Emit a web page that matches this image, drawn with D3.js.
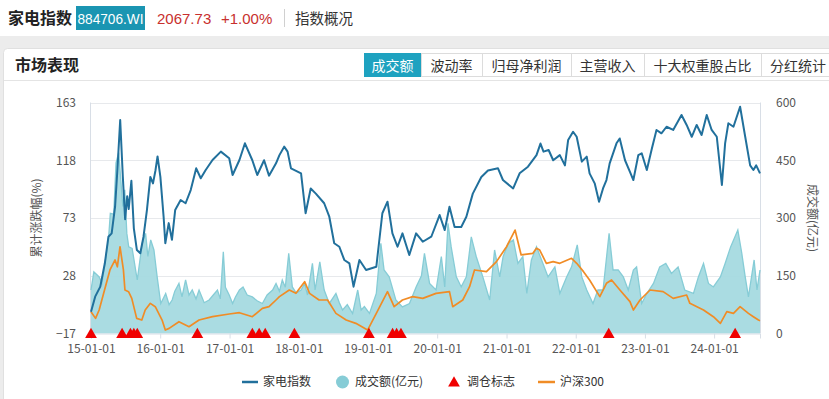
<!DOCTYPE html>
<html>
<head>
<meta charset="utf-8">
<script src="https://cdn.jsdelivr.net/npm/d3@7"></script>
<style>
  html, body { margin: 0; padding: 0; background: #fff; }
  svg { display: block; font-family: "Noto Sans CJK SC", "Noto Sans", sans-serif; }
</style>
</head>
<body>
<svg id="chart" width="829" height="399"></svg>
<script>
// ---------------- DATA ----------------
const indexName = "家电指数";
const indexCode = "884706.WI";
const indexPrice = "2067.73";
const indexChange = "+1.00%";
const tabs = ["成交额", "波动率", "归母净利润", "主营收入", "十大权重股占比", "分红统计"];

const leftTicks = [-17, 28, 73, 118, 163];
const rightTicks = [0, 150, 300, 450, 600];
const xTickLabels = ["15-01-01","16-01-01","17-01-01","18-01-01","19-01-01","20-01-01","21-01-01","22-01-01","23-01-01","24-01-01"];

// 家电指数 cumulative change (%)
const idxDates = ["2015-01-01","2015-01-23","2015-02-19","2015-03-15","2015-04-03","2015-04-20","2015-05-08","2015-05-20","2015-06-04","2015-06-18","2015-06-30","2015-07-11","2015-07-19","2015-08-02","2015-08-15","2015-08-31","2015-09-18","2015-10-05","2015-10-23","2015-11-10","2015-11-24","2015-12-07","2015-12-18",
"2016-01-02","2016-01-19","2016-01-28","2016-02-15","2016-03-03","2016-03-20","2016-04-18","2016-05-14","2016-06-10","2016-07-09","2016-08-02","2016-08-28","2016-10-03","2016-11-16","2016-12-30",
"2017-01-17","2017-02-22","2017-03-23","2017-05-01","2017-05-27","2017-07-02","2017-07-28","2017-09-03","2017-09-21","2017-10-16","2017-11-03","2017-11-21",
"2018-01-13","2018-02-06","2018-03-05","2018-04-01","2018-05-15","2018-06-11","2018-07-07","2018-08-03","2018-08-29","2018-09-25","2018-10-17","2018-11-17","2018-12-22",
"2019-02-14","2019-03-18","2019-04-14","2019-05-10","2019-06-06","2019-07-02","2019-08-07","2019-09-12","2019-10-17","2019-12-01",
"2020-01-14","2020-02-10","2020-03-06","2020-04-02","2020-05-07","2020-06-03","2020-07-07","2020-08-21","2020-09-25","2020-11-17","2020-12-13",
"2021-02-05","2021-03-11","2021-04-24","2021-06-08","2021-06-29","2021-07-15","2021-08-11","2021-09-04","2021-10-09","2021-11-05","2021-11-22","2021-12-18",
"2022-01-06","2022-02-02","2022-02-28","2022-03-15","2022-04-11","2022-05-04","2022-05-25","2022-06-12","2022-06-29","2022-08-04","2022-08-21","2022-09-18","2022-10-14","2022-11-01","2022-11-27","2022-12-15",
"2023-01-11","2023-02-07","2023-03-03","2023-03-29","2023-04-25","2023-05-30","2023-07-13","2023-08-09","2023-09-05","2023-10-01","2023-10-27","2023-11-23","2023-12-19",
"2024-01-15","2024-02-11","2024-02-28","2024-03-16","2024-04-12","2024-05-17","2024-06-13","2024-07-09","2024-07-26","2024-08-10","2024-08-30"];
const idxValues = [0,11.7,19.5,37.7,58.4,61,81.8,110,149.4,105,72,90,80,102,65,48,45.5,58.4,79.2,105,100,110,121,
105,74,53.3,69,56,79.2,87,84.5,94.8,111.7,104,110.4,118.2,124.7,119.5,
106.5,118.2,131.2,118,106.5,118,106,115.6,122,128.6,124.7,111.7,
107.8,76.7,96,92,84.5,74,53.3,50.6,40.3,37.7,19.5,40.3,32.5,
35,76.7,85.7,61,50.6,61,44.2,61,54.5,58.4,
75.3,63.6,81.8,66,66,74,92,105,110,111.7,102.6,
96,107.8,113,122,131,124.7,126,118,122,114,133.8,140.2,
136.3,116.9,120.8,107.8,100,85.7,96,102.6,115.6,131.2,135,118,109,102.6,122,123.4,
110.4,127.3,141.6,139,144.1,141.6,153.3,145.5,136.3,145.5,137.7,153.3,141.6,
136.3,98.7,131.2,146.8,144.1,159.7,136.3,114,110.4,114,107.8];

// 沪深300 cumulative change (%)
const hsDates = ["2015-01-01","2015-01-25","2015-02-13","2015-03-18","2015-04-11","2015-05-08","2015-05-20","2015-06-03","2015-06-21","2015-06-29","2015-07-18","2015-08-04","2015-08-30","2015-09-26","2015-10-14","2015-11-10","2015-12-06",
"2016-01-11","2016-01-28","2016-02-17","2016-04-09","2016-06-01","2016-07-24","2016-10-03","2016-12-30",
"2017-02-22","2017-05-01","2017-06-23","2017-07-28","2017-09-03","2017-09-21","2017-11-12","2017-12-17",
"2018-02-01","2018-02-27","2018-04-18","2018-06-02","2018-07-16","2018-09-08","2018-10-29","2018-12-30",
"2019-02-14","2019-04-14","2019-05-19","2019-07-02","2019-08-25","2019-10-17","2019-12-26",
"2020-03-06","2020-03-23","2020-05-15","2020-06-20","2020-07-16","2020-09-17","2020-11-09",
"2021-01-01","2021-02-15","2021-03-19","2021-05-20","2021-06-08","2021-06-25","2021-07-30","2021-09-04","2021-10-09","2021-12-10",
"2022-01-06","2022-02-11","2022-03-15","2022-05-08","2022-06-12","2022-07-09","2022-08-22","2022-10-14","2022-11-01","2022-12-06",
"2023-01-28","2023-04-07","2023-05-30","2023-08-09","2023-08-26","2023-11-06","2023-12-28",
"2024-02-03","2024-03-08","2024-04-12","2024-05-17","2024-06-30","2024-07-26","2024-08-22","2024-08-30"];
const hsValues = [0,-5.2,1.3,19.5,32.5,40.3,35,50.6,32.5,16.9,15.6,10.4,-5.2,-6.5,1.3,6.5,3.9,
-6.5,-14.3,-13,-7.8,-11.7,-6.5,-3.9,-1.8,
-0.8,-3.9,2.6,3.9,9.1,11.7,16.9,14.3,
23.4,14.3,9.1,9.1,-1.3,-6.5,-9.1,-14.3,
-1.3,15.6,3.9,9.1,11.7,10.4,14.3,
15.6,3.9,9.1,19.5,32.5,31.2,39,
50.6,63.6,44.2,45.5,49.4,48,37.7,39,37.7,41.6,
37.7,31.2,24.7,11.7,22.1,24.7,16.9,7.8,1.3,9.1,
16.9,15.6,10.4,13,6.5,1.3,-3.9,
-9.1,0,-1.3,3.9,-1.3,-3.9,-6.5,-7];

// 成交额 (亿元)
const volDates = ["2015-01-01","2015-01-16","2015-02-13","2015-02-28","2015-03-18","2015-04-04","2015-04-13","2015-05-01","2015-05-13","2015-05-27","2015-06-07","2015-06-18","2015-06-28","2015-07-09","2015-07-19","2015-08-06","2015-09-02","2015-09-28","2015-10-16","2015-10-28","2015-11-12","2015-11-29","2015-12-16",
"2016-01-04","2016-01-30","2016-02-17","2016-03-04","2016-03-18","2016-04-09","2016-04-25","2016-05-14","2016-06-01","2016-06-18","2016-07-08","2016-07-24","2016-08-20","2016-09-15","2016-10-07","2016-10-29","2016-11-13","2016-11-29","2016-12-10","2016-12-30",
"2017-01-17","2017-02-01","2017-02-22","2017-03-13","2017-04-04","2017-05-01","2017-05-26","2017-06-23","2017-07-18","2017-08-16","2017-09-03","2017-09-21","2017-10-06","2017-10-22","2017-11-09","2017-11-28","2017-12-19",
"2018-01-13","2018-02-01","2018-02-16","2018-03-14","2018-03-28","2018-04-22","2018-05-15","2018-06-11","2018-07-16","2018-08-03","2018-08-20","2018-09-14","2018-10-12","2018-11-08","2018-11-26","2018-12-13",
"2019-01-09","2019-02-14","2019-03-10","2019-03-27","2019-04-23","2019-05-28","2019-07-02","2019-08-08","2019-09-12","2019-10-10","2019-10-26","2019-11-22","2019-12-26",
"2020-01-23","2020-02-10","2020-02-27","2020-03-15","2020-04-11","2020-05-07","2020-06-03","2020-06-29","2020-07-25","2020-08-29","2020-10-04","2020-10-30","2020-11-26","2020-12-14",
"2021-01-10","2021-02-06","2021-03-02","2021-03-28","2021-04-18","2021-05-12","2021-06-08","2021-07-12","2021-08-08","2021-09-13","2021-10-09","2021-11-14","2021-12-10",
"2022-01-09","2022-02-02","2022-02-28","2022-04-02","2022-04-28","2022-05-25","2022-06-26","2022-07-17","2022-08-13","2022-09-09","2022-10-05","2022-11-01","2022-11-18","2022-12-15",
"2023-01-11","2023-02-15","2023-03-20","2023-04-21","2023-05-21","2023-06-25","2023-07-30","2023-09-14","2023-10-10","2023-11-06","2023-12-02","2023-12-28",
"2024-02-03","2024-02-28","2024-03-28","2024-05-05","2024-05-26","2024-06-13","2024-06-30","2024-07-30","2024-08-14","2024-08-30"];
const volValues = [113,160,147,130,190,250,312,310,443,470,400,330,373,260,225,221,139,234,260,200,243,217,147,
78,104,75,87,110,130,95,139,100,113,90,113,80,87,100,113,90,212,120,100,
78,95,113,121,100,95,85,78,100,113,130,110,139,120,208,121,105,
113,130,100,182,113,186,113,78,104,80,61,75,52,113,61,70,
52,104,234,165,147,87,69,78,121,150,208,130,113,
200,121,286,225,147,121,147,251,200,147,87,217,147,200,
234,243,182,200,104,191,225,182,147,173,104,147,173,
230,147,113,78,113,113,260,165,165,147,113,165,173,78,
104,130,173,182,156,173,113,104,147,182,130,121,
147,182,225,269,208,147,95,191,113,165];

// 调仓标志 dates
const markDates = ["2015-01-01","2015-06-14","2015-07-28","2015-08-15","2015-09-02","2016-07-15","2017-05-01","2017-06-06","2017-07-08","2017-12-09","2019-01-06","2019-05-11","2019-06-01","2019-06-24","2022-06-24","2024-04-21"];

const legendItems = ["家电指数", "成交额(亿元)", "调仓标志", "沪深300"];

// ---------------- DRAW ----------------
const parse = d3.timeParse("%Y-%m-%d");
const parseTick = d3.timeParse("%y-%m-%d");
const svg = d3.select("#chart");

const C = {
  blue: "#21709c", orange: "#f08c26", volFill: "#a5dae0", volLine: "#86ccd6",
  red: "#f00000", teal: "#1ea2c0", grid: "#e7e9ec", axis: "#d8dee6", text: "#555"
};

// page background and card
svg.append("rect").attr("x",0).attr("y",36).attr("width",829).attr("height",363).attr("fill","#ececec");
svg.append("rect").attr("x",3.5).attr("y",48.5).attr("width",840).attr("height",360).attr("rx",4)
  .attr("fill","#fff").attr("stroke","#e0e0e0");
svg.append("line").attr("x1",4).attr("x2",829).attr("y1",80.5).attr("y2",80.5).attr("stroke","#e4e4e4");

// header
svg.append("text").attr("x",8).attr("y",23.5).attr("font-size",16).attr("font-weight","bold").attr("fill","#222").text(indexName);
svg.append("rect").attr("x",76).attr("y",6).attr("width",69).attr("height",24).attr("fill","#1a95b2");
svg.append("text").attr("x",77.5).attr("y",23.5).attr("font-size",15).attr("fill","#fff")
  .attr("font-family","Liberation Sans, Arial, sans-serif").attr("textLength",66).attr("lengthAdjust","spacingAndGlyphs").text(indexCode);
svg.append("text").attr("x",157).attr("y",23.5).attr("font-size",15).attr("fill","#c8302e")
  .attr("font-family","Liberation Sans, Arial, sans-serif").text(indexPrice);
svg.append("text").attr("x",221).attr("y",23.5).attr("font-size",15).attr("fill","#c8302e")
  .attr("font-family","Liberation Sans, Arial, sans-serif").text(indexChange);
svg.append("line").attr("x1",284.5).attr("x2",284.5).attr("y1",9).attr("y2",27).attr("stroke","#d0d0d0");
svg.append("text").attr("x",295).attr("y",23.5).attr("font-size",14.5).attr("fill","#333").text("指数概况");

svg.append("text").attr("x",15).attr("y",71).attr("font-size",16).attr("font-weight","bold").attr("fill","#222").text("市场表现");

// tabs
const tabEdges = [364, 421, 482, 571, 644, 761, 840];
tabs.forEach((t, i) => {
  const x0 = tabEdges[i], x1 = tabEdges[i+1];
  svg.append("rect").attr("x",x0+0.5).attr("y",53.5).attr("width",x1-x0).attr("height",23)
    .attr("fill", i===0 ? C.teal : "#fff").attr("stroke", i===0 ? C.teal : "#dcdcdc");
  const cx = i === tabs.length - 1 ? x0 + 37 : (x0 + x1) / 2;
  svg.append("text").attr("x",cx).attr("y",70.5)
    .attr("text-anchor","middle").attr("font-size",14).attr("fill", i===0 ? "#fff" : "#333").text(t);
});

// scales
const x = d3.scaleTime().domain([parse("2015-01-01"), parse("2024-08-30")]).range([91, 760]);
const yL = d3.scaleLinear().domain([-17, 163]).range([333.5, 102.5]);
const yR = d3.scaleLinear().domain([0, 600]).range([333.5, 102.5]);

// grid
svg.append("g").selectAll("line").data(leftTicks.slice(1)).join("line")
  .attr("x1",91).attr("x2",760).attr("y1",d=>Math.round(yL(d))+0.5).attr("y2",d=>Math.round(yL(d))+0.5)
  .attr("stroke",C.grid);
svg.append("line").attr("x1",90.5).attr("x2",90.5).attr("y1",102.5).attr("y2",333.5).attr("stroke",C.axis);
svg.append("line").attr("x1",760.5).attr("x2",760.5).attr("y1",102.5).attr("y2",333.5).attr("stroke",C.axis);

// volume area
const volData = volDates.map((d,i)=>({date: parse(d), v: volValues[i]}));
svg.append("path").datum(volData)
  .attr("d", d3.area().x(d=>x(d.date)).y0(yR(0)).y1(d=>yR(d.v)))
  .attr("fill", C.volFill).attr("fill-opacity",0.95);
svg.append("path").datum(volData)
  .attr("d", d3.line().x(d=>x(d.date)).y(d=>yR(d.v)))
  .attr("fill","none").attr("stroke",C.volLine).attr("stroke-width",1.3);

// bottom axis
const xAxis = d3.axisBottom(x).tickValues(xTickLabels.map(parseTick)).tickFormat(d3.timeFormat("%y-%m-%d")).tickSize(5).tickPadding(6);
const gx = svg.append("g").attr("transform","translate(0,333.5)").call(xAxis);
gx.select(".domain").attr("stroke",C.axis);
gx.selectAll(".tick line").attr("stroke",C.axis);
gx.selectAll(".tick text").attr("fill",C.text).attr("font-size",12).attr("font-family","Noto Sans CJK SC, sans-serif");

// left axis
const gl = svg.append("g").attr("transform","translate(90,0)")
  .call(d3.axisLeft(yL).tickValues(leftTicks).tickSize(0).tickPadding(14));
gl.select(".domain").remove();
gl.selectAll(".tick text").attr("fill",C.text).attr("font-size",12).attr("font-family","Noto Sans CJK SC, sans-serif");

// right axis
const gr = svg.append("g").attr("transform","translate(760,0)")
  .call(d3.axisRight(yR).tickValues(rightTicks).tickSize(0).tickPadding(16));
gr.select(".domain").remove();
gr.selectAll(".tick text").attr("fill",C.text).attr("font-size",12).attr("font-family","Noto Sans CJK SC, sans-serif");

// axis titles
svg.append("text").attr("transform","translate(41,218) rotate(-90)").attr("text-anchor","middle")
  .attr("font-size",12).attr("fill",C.text).text("累计涨跌幅(%)");
svg.append("text").attr("transform","translate(808,218) rotate(90)").attr("text-anchor","middle")
  .attr("font-size",12).attr("fill",C.text).text("成交额(亿元)");

// lines
const hsData = hsDates.map((d,i)=>({date: parse(d), v: hsValues[i]}));
svg.append("path").datum(hsData)
  .attr("d", d3.line().x(d=>x(d.date)).y(d=>yL(d.v)))
  .attr("fill","none").attr("stroke",C.orange).attr("stroke-width",1.7).attr("stroke-linejoin","round");
const idxData = idxDates.map((d,i)=>({date: parse(d), v: idxValues[i]}));
svg.append("path").datum(idxData)
  .attr("d", d3.line().x(d=>x(d.date)).y(d=>yL(d.v)))
  .attr("fill","none").attr("stroke",C.blue).attr("stroke-width",2).attr("stroke-linejoin","round");

// markers
const tri = d3.symbol().type(d3.symbolTriangle).size(60);
svg.append("g").selectAll("path").data(markDates).join("path")
  .attr("d", tri).attr("fill", C.red)
  .attr("transform", d => `translate(${x(parse(d))},${yL(-17)+1})`);

// legend
const ly = 382;
const lg = svg.append("g").attr("font-size",12).attr("fill","#333");
lg.append("line").attr("x1",242).attr("x2",258).attr("y1",ly).attr("y2",ly).attr("stroke",C.blue).attr("stroke-width",2.5);
lg.append("text").attr("x",263).attr("y",ly).attr("dy","0.36em").text(legendItems[0]);
lg.append("circle").attr("cx",342.5).attr("cy",ly).attr("r",6.5).attr("fill",C.volLine);
lg.append("text").attr("x",355).attr("y",ly).attr("dy","0.36em").text(legendItems[1]);
lg.append("path").attr("d",tri).attr("fill",C.red).attr("transform",`translate(454,${ly+1})`);
lg.append("text").attr("x",467).attr("y",ly).attr("dy","0.36em").text(legendItems[2]);
lg.append("line").attr("x1",538).attr("x2",555).attr("y1",ly).attr("y2",ly).attr("stroke",C.orange).attr("stroke-width",2.5);
lg.append("text").attr("x",560).attr("y",ly).attr("dy","0.36em").text(legendItems[3]);
</script>
</body>
</html>
